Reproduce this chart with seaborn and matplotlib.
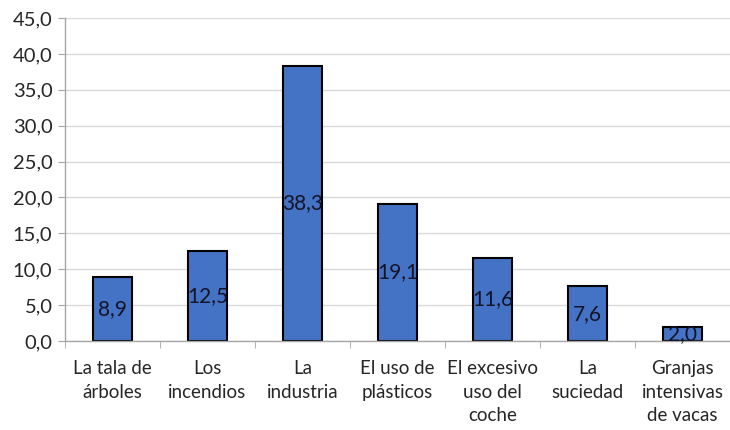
import seaborn as sns
import matplotlib.pyplot as plt
from matplotlib.ticker import FuncFormatter, FixedLocator, NullFormatter
import pandas as pd

categorias = ["La tala de\nárboles", "Los\nincendios", "La\nindustria",
              "El uso de\nplásticos", "El excesivo\nuso del\ncoche",
              "La\nsuciedad", "Granjas\nintensivas\nde vacas"]
valores = [8.9, 12.5, 38.3, 19.1, 11.6, 7.6, 2.0]

df = pd.DataFrame({"causa": categorias, "pct": valores})

sns.set_style("white")
plt.rcParams['font.family'] = ['Lato', 'DejaVu Sans']

fig = plt.figure(figsize=(7.3, 4.3), dpi=100)
ax = fig.add_axes([0.089, 0.207, 0.911, 0.751])

sns.barplot(data=df, x="causa", y="pct", color="#4472C4", width=0.42,
            edgecolor="black", linewidth=1.5, saturation=1, ax=ax)

ax.set_ylim(0, 45)
ax.set_xlim(-0.5, len(categorias) - 0.5)
ax.set_yticks(range(0, 46, 5))
ax.yaxis.set_major_formatter(FuncFormatter(lambda v, p: f"{v:.1f}".replace(".", ",")))
ax.grid(axis="y", color="#D9D9D9", linewidth=1)
ax.set_axisbelow(True)

# etiquetas en el centro de cada barra
for i, v in enumerate(valores):
    ax.text(i, v / 2, f"{v:.1f}".replace(".", ","), ha="center", va="center",
            fontsize=15, color="#141428")

ax.set_xlabel("")
ax.set_ylabel("")
ax.tick_params(axis="x", length=0, labelsize=13.5, pad=14)
ax.tick_params(axis="y", length=5, color="#A6A6A6", labelsize=14.5, pad=4, left=True)
ax.xaxis.set_minor_locator(FixedLocator([i - 0.5 for i in range(len(categorias) + 1)]))
ax.xaxis.set_minor_formatter(NullFormatter())
ax.tick_params(axis="x", which="minor", length=5, color="#A6A6A6", bottom=True)
for lbl in ax.get_xticklabels():
    lbl.set_va("top")
    lbl.set_linespacing(1.45)

for s in ["top", "right"]:
    ax.spines[s].set_visible(False)
for s in ["left", "bottom"]:
    ax.spines[s].set_color("#A6A6A6")
    ax.spines[s].set_linewidth(1)

plt.savefig("out.png", dpi=100)
